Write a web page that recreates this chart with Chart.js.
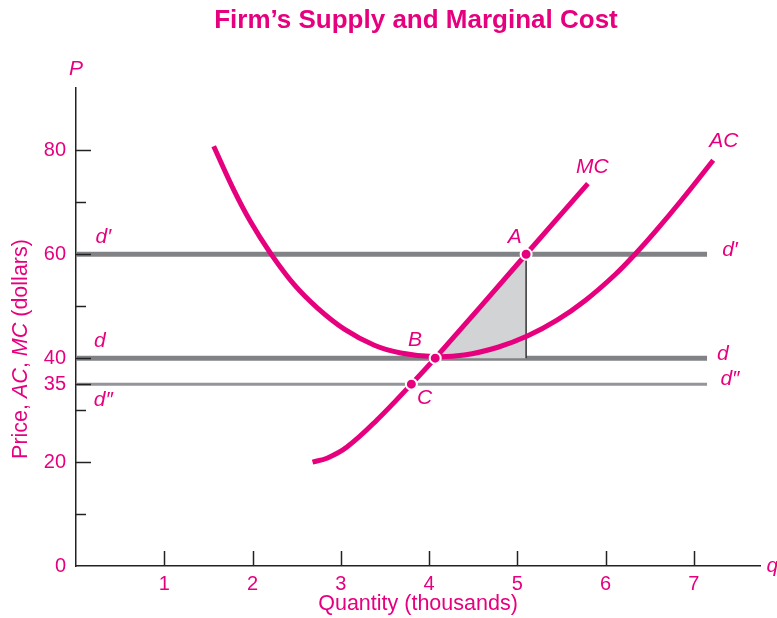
<!DOCTYPE html>
<html>
<head>
<meta charset="utf-8">
<script src="https://cdn.jsdelivr.net/npm/chart.js@4.4.0/dist/chart.umd.min.js"></script>
<style>
  body { margin: 0; background: #fff; }
  canvas { display: block; }
</style>
</head>
<body>
<canvas id="myChart" width="777" height="618"></canvas>
<script>
// quantity (thousands) / price (dollars)
var mcQ = [2.68, 2.85, 3.07, 3.41, 3.8, 4.07, 5.1, 5.8];
var mcP = [20, 20.8, 22.9, 28.1, 35, 40, 60, 73.6];

var acQ = [1.56, 1.79, 1.98, 2.2, 2.47, 2.74, 3.04, 3.38, 3.68, 4.05, 4.4, 4.78, 5.12, 5.45, 5.77, 6.11, 6.35, 6.56, 6.86, 7.22];
var acP = [80.8, 72.3, 66.2, 60.3, 54.2, 49.6, 45.6, 42.5, 41.0, 40.3, 40.6, 42.1, 44.3, 47.3, 51.1, 56.1, 60.3, 64.3, 70.4, 78.1];

var demandPrices = [60, 40, 35];      // d', d, d''
var demandEnd = 7.15;

var pointQ = [5.1, 4.07, 3.8];        // A, B, C
var pointP = [60, 40, 35];

var shadeQ = [4.07, 5.1];
var shadeP = [40, 60];

var yTickLabels = [0, 20, 35, 40, 60, 80];
var yMinorTicks = [10, 30, 50, 70];
var xTickLabels = [1, 2, 3, 4, 5, 6, 7];

var TITLE = 'Firm\u2019s Supply and Marginal Cost';
var MAGENTA = '#e6007e';
var FONT = '"Liberation Sans", Arial, sans-serif';

function pts(xs, ys) {
    var out = [];
    for (var i = 0; i < xs.length; i++) out.push({x: xs[i], y: ys[i]});
    return out;
}

// text annotations (data coordinates)
var notes = [
    {t: 'd\u2032', x: 0.31, y: 63.3}, {t: 'd', x: 0.27, y: 43.3}, {t: 'd\u2033', x: 0.31, y: 32.0},
    {t: 'd\u2032', x: 7.41, y: 60.8}, {t: 'd', x: 7.33, y: 40.8}, {t: 'd\u2033', x: 7.41, y: 36},
    {t: 'A', x: 4.97, y: 63.3}, {t: 'B', x: 3.84, y: 43.5}, {t: 'C', x: 3.95, y: 32.3},
    {t: 'MC', x: 5.85, y: 76.7}, {t: 'AC', x: 7.34, y: 81.7},
    {t: 'P', x: 0, y: 95.6}, {t: 'q', x: 7.89, y: 0}
];

var extras = {
    id: 'extras',
    afterDraw: function (chart) {
        var c = chart.ctx, xs = chart.scales.x, ys = chart.scales.y;
        var x0 = xs.getPixelForValue(0), y0 = ys.getPixelForValue(0);
        c.save();
        // title
        c.fillStyle = MAGENTA;
        c.font = 'bold 26px ' + FONT;
        c.textAlign = 'center';
        c.textBaseline = 'middle';
        c.fillText(TITLE, 416, 21);
        // inward tick marks
        c.strokeStyle = '#222';
        c.lineWidth = 1.5;
        yTickLabels.concat(yMinorTicks).forEach(function (v) {
            if (v === 0) return;
            var len = yMinorTicks.indexOf(v) >= 0 ? 10 : 15;
            var py = Math.round(ys.getPixelForValue(v)) + 0.5;
            c.beginPath(); c.moveTo(x0, py); c.lineTo(x0 + len, py); c.stroke();
        });
        xTickLabels.forEach(function (v) {
            var px = Math.round(xs.getPixelForValue(v)) + 0.5;
            c.beginPath(); c.moveTo(px, y0); c.lineTo(px, y0 - 15); c.stroke();
        });
        // labels
        c.font = 'italic 21px ' + FONT;
        notes.forEach(function (n) {
            c.fillText(n.t, xs.getPixelForValue(n.x), ys.getPixelForValue(n.y));
        });
        // y axis title with italic parts
        var parts = [['Price, ', false], ['AC', true], [', ', false], ['MC', true], [' (dollars)', false]];
        var normal = '21.5px ' + FONT;
        var ital = 'italic 21.5px ' + FONT;
        var total = 0;
        parts.forEach(function (p) { c.font = p[1] ? ital : normal; total += c.measureText(p[0]).width; });
        c.translate(21, 349);
        c.rotate(-Math.PI / 2);
        c.textAlign = 'left';
        var cx = -total / 2;
        parts.forEach(function (p) {
            c.font = p[1] ? ital : normal;
            c.fillText(p[0], cx, 0);
            cx += c.measureText(p[0]).width;
        });
        c.restore();
    }
};

var datasets = [
    {data: pts(pointQ, pointP), showLine: false, pointRadius: 5.5, pointBorderWidth: 2,
     pointBackgroundColor: MAGENTA, pointBorderColor: '#fff'},
    {data: pts(mcQ, mcP), showLine: true, borderColor: MAGENTA, borderWidth: 5, pointRadius: 0,
     tension: 0.4},
    {data: pts(acQ, acP), showLine: true, borderColor: MAGENTA, borderWidth: 5, pointRadius: 0,
     tension: 0.4},
    {data: [{x: shadeQ[1], y: shadeP[0]}, {x: shadeQ[1], y: shadeP[1]}], showLine: true,
     borderColor: '#333', borderWidth: 1.5, pointRadius: 0},
    {data: pts(shadeQ, shadeP), showLine: true, borderWidth: 0, pointRadius: 0,
     fill: {value: 40}, backgroundColor: '#d1d3d4'}
];
demandPrices.forEach(function (p, i) {
    datasets.push({
        data: [{x: 0, y: p}, {x: demandEnd, y: p}], showLine: true, pointRadius: 0,
        borderColor: i < 2 ? '#808285' : '#939598', borderWidth: i < 2 ? 5 : 3
    });
});

const ctx = document.getElementById('myChart').getContext('2d');
const myChart = new Chart(ctx, {
    type: 'scatter',
    data: {datasets: datasets},
    options: {
        responsive: false,
        animation: false,
        layout: {padding: {top: 88, right: 17}},
        plugins: {
            legend: {display: false},
            tooltip: {enabled: false},
            title: {display: false}
        },
        scales: {
            x: {
                type: 'linear', min: 0, max: 7.75,
                afterBuildTicks: function (s) { s.ticks = xTickLabels.map(function (v) { return {value: v}; }); },
                afterFit: function (s) { s.height = 52; },
                grid: {display: false, drawTicks: false},
                border: {display: true, color: '#222', width: 1.5},
                ticks: {color: MAGENTA, padding: 6, maxRotation: 0, font: {family: FONT, size: 20}},
                title: {display: true, text: 'Quantity (thousands)', color: MAGENTA,
                        padding: {top: 0, bottom: 1}, font: {family: FONT, size: 21.5}}
            },
            y: {
                type: 'linear', min: 0, max: 92,
                afterBuildTicks: function (s) { s.ticks = yTickLabels.map(function (v) { return {value: v}; }); },
                afterFit: function (s) { s.width = 76; },
                grid: {display: false, drawTicks: false},
                border: {display: true, color: '#222', width: 1.5},
                ticks: {color: MAGENTA, padding: 10, font: {family: FONT, size: 20}}
            }
        }
    },
    plugins: [extras]
});
</script>
</body>
</html>
